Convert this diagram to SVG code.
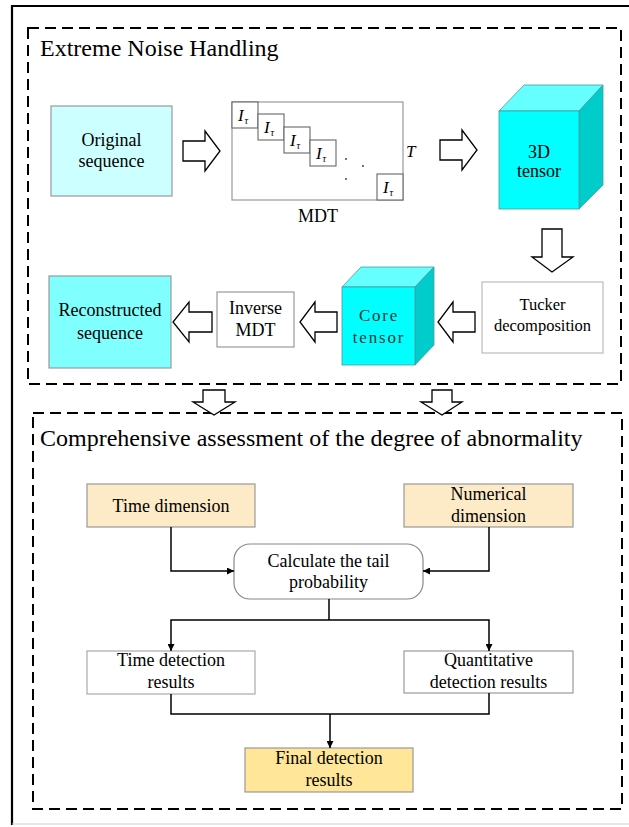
<svg xmlns="http://www.w3.org/2000/svg" width="629" height="827" viewBox="0 0 629 827" font-family="'Liberation Serif', 'Times New Roman', 'DejaVu Serif', serif">
<style>
text{font-family:'Liberation Serif','Times New Roman','DejaVu Serif',serif;fill:#000;}
.t18{font-size:18px;text-anchor:middle;}
.title{font-size:24px;}
.dash{fill:none;stroke:#000;stroke-width:2;stroke-dasharray:11 6;}
.harrow{fill:#fff;stroke:#000;stroke-width:1.3;stroke-linejoin:miter;}
.box{stroke:#999;stroke-width:1.2;}
.conn{fill:none;stroke:#000;stroke-width:1.5;}
.it{font-style:italic;font-size:17px;}
.sub{font-style:italic;font-size:10px;}
</style>
<defs>
<marker id="ah" viewBox="0 0 10 10" refX="10" refY="5" markerWidth="7" markerHeight="7" markerUnits="userSpaceOnUse" orient="auto">
<path d="M0,0 L10,5 L0,10 z" fill="#000"/>
</marker>
</defs>
<rect width="629" height="827" fill="#fff"/>
<!-- outer frame -->
<path d="M12,825 V6 H640" fill="none" stroke="#000" stroke-width="2.2"/>
<path d="M12,824 H629" fill="none" stroke="#d0d0d0" stroke-width="1.2"/>

<!-- section frames -->
<g id="section-noise">
<rect class="dash" x="28" y="28" width="593" height="356"/>
<text class="title" x="40" y="56">Extreme Noise Handling</text>
</g>
<g id="section-assessment">
<rect class="dash" x="33" y="413" width="589" height="396"/>
<text class="title" x="40" y="446">Comprehensive assessment of the degree of abnormality</text>
</g>

<!-- nodes top -->
<g id="original-sequence">
<rect class="box" x="51" y="106" width="121" height="90" fill="#ccffff"/>
<text class="t18" x="111.5" y="146">Original</text>
<text class="t18" x="111.5" y="167">sequence</text>
</g>

<g id="mdt">
<rect x="232" y="102" width="171" height="98" fill="#fff" stroke="#999" stroke-width="1.2"/>
<g fill="#fff" stroke="#666" stroke-width="1.1">
<rect x="232" y="102" width="26" height="26"/>
<rect x="258" y="114" width="26" height="26"/>
<rect x="284" y="127" width="26" height="26"/>
<rect x="310" y="140" width="26" height="26"/>
<rect x="377" y="174" width="26" height="26"/>
</g>
<text class="it" x="238" y="121">I</text><text class="sub" x="244.5" y="124">τ</text>
<text class="it" x="264" y="133">I</text><text class="sub" x="270.5" y="136">τ</text>
<text class="it" x="290" y="146">I</text><text class="sub" x="296.5" y="149">τ</text>
<text class="it" x="316" y="159">I</text><text class="sub" x="322.5" y="162">τ</text>
<text class="it" x="383" y="193">I</text><text class="sub" x="389.5" y="196">τ</text>
<g fill="#333">
<circle cx="346" cy="159" r="0.9"/>
<circle cx="363" cy="166" r="0.9"/>
<circle cx="346" cy="179" r="0.9"/>
</g>
<text class="it" x="406" y="157">T</text>
<text class="t18" x="318" y="222">MDT</text>
</g>

<g id="tensor-3d">
<path d="M499,111 L524,85 L603,85 L579,111 Z" fill="#66ffff" stroke="#4a9a9a" stroke-width="0.8"/>
<path d="M579,111 L603,85 L603,185 L579,209 Z" fill="#00cccc" stroke="#4a9a9a" stroke-width="0.8"/>
<rect x="499" y="111" width="80" height="98" fill="#00ffff" stroke="#4a9a9a" stroke-width="0.8"/>
<text class="t18" x="539" y="158">3D</text>
<text class="t18" x="539" y="177">tensor</text>
</g>

<g id="tucker">
<rect x="482" y="282" width="121" height="71" fill="#fff" stroke="#bbb" stroke-width="1.2"/>
<text x="542.5" y="310" style="font-size:16.5px;text-anchor:middle">Tucker</text>
<text x="542.5" y="331" style="font-size:16.5px;text-anchor:middle">decomposition</text>
</g>

<g id="core-tensor">
<path d="M342,287 L361,267 L434,267 L415,287 Z" fill="#66ffff" stroke="#4a9a9a" stroke-width="0.8"/>
<path d="M415,287 L434,267 L434,345 L415,365 Z" fill="#00cccc" stroke="#4a9a9a" stroke-width="0.8"/>
<rect x="342" y="287" width="73" height="78" fill="#00ffff" stroke="#4a9a9a" stroke-width="0.8"/>
<text x="379" y="321" style="font-size:17px;text-anchor:middle;letter-spacing:1.8px;fill:#333">Core</text>
<text x="379" y="343" style="font-size:17px;text-anchor:middle;letter-spacing:1.8px;fill:#333">tensor</text>
</g>

<g id="inverse-mdt">
<rect class="box" x="217" y="292" width="77" height="55" fill="#fff"/>
<text class="t18" x="255.5" y="314">Inverse</text>
<text class="t18" x="255.5" y="336">MDT</text>
</g>

<g id="reconstructed-sequence">
<rect class="box" x="49" y="276" width="122" height="92" fill="#80ffff"/>
<text class="t18" x="110" y="316">Reconstructed</text>
<text class="t18" x="110" y="339">sequence</text>
</g>

<!-- bottom nodes -->
<g id="time-dimension">
<rect class="box" x="87" y="484" width="168" height="43" fill="#fdebc8"/>
<text class="t18" x="171" y="512">Time dimension</text>
</g>
<g id="numerical-dimension">
<rect class="box" x="404" y="484" width="169" height="43" fill="#fdebc8"/>
<text class="t18" x="488.5" y="500">Numerical</text>
<text class="t18" x="488.5" y="522">dimension</text>
</g>
<g id="tail-probability">
<rect x="234" y="544" width="189" height="55" rx="16" ry="16" fill="#fff" stroke="#888" stroke-width="1.2"/>
<text class="t18" x="328.5" y="567">Calculate the tail</text>
<text class="t18" x="328.5" y="588">probability</text>
</g>
<g id="time-detection">
<rect x="87" y="651" width="168" height="43" fill="#fff" stroke="#aaa" stroke-width="1.2"/>
<text class="t18" x="171" y="666">Time detection</text>
<text class="t18" x="171" y="688">results</text>
</g>
<g id="quantitative-detection">
<rect x="404" y="651" width="169" height="42" fill="#fff" stroke="#999" stroke-width="1.2"/>
<text class="t18" x="488.5" y="666">Quantitative</text>
<text class="t18" x="488.5" y="688">detection results</text>
</g>
<g id="final-detection">
<rect class="box" x="245" y="748" width="168" height="44" fill="#ffe699"/>
<text class="t18" x="329" y="764">Final detection</text>
<text class="t18" x="329" y="786">results</text>
</g>

<!-- connectors -->
<g id="connectors">
<path class="harrow" d="M183,141 H205 V131 L220,151 L205,171 V161 H183 Z"/>
<path class="harrow" d="M440,140 H462 V130 L477,150 L462,170 V160 H440 Z"/>
<path class="harrow" d="M542,229 V257 H532 L552,272 L573,257 H562 V229 Z"/>
<path class="harrow" d="M475,312 H453 V302 L438,322 L453,342 V332 H475 Z"/>
<path class="harrow" d="M337,312 H315 V302 L300,322 L315,342 V332 H337 Z"/>
<path class="harrow" d="M212,312 H189 V302 L173,322 L189,342 V332 H212 Z"/>
<path class="harrow" d="M203,390 V402 H193 L214,415 L235,402 H225 V390 Z"/>
<path class="harrow" d="M432,390 V402 H421 L442,415 L462,402 H452 V390 Z"/>
<path class="conn" d="M171,527 V571 H234" marker-end="url(#ah)"/>
<path class="conn" d="M489,527 V571 H423" marker-end="url(#ah)"/>
<path class="conn" d="M329,599 V620"/>
<path class="conn" d="M329,620 H171 V651" marker-end="url(#ah)"/>
<path class="conn" d="M329,620 H489 V651" marker-end="url(#ah)"/>
<path class="conn" d="M171,694 V714 H489 V693"/>
<path class="conn" d="M330,714 V748" marker-end="url(#ah)"/>
</g>
</svg>
